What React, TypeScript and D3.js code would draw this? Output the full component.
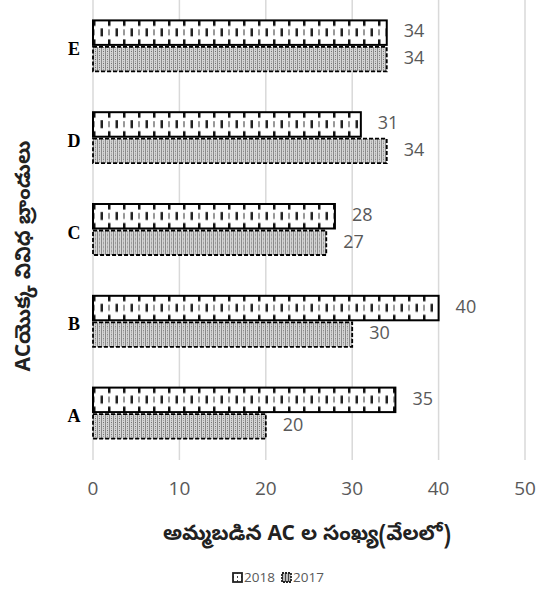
import React from "react";
import * as d3 from "d3";

const categories = ["E", "D", "C", "B", "A"];
const seriesNames = ["2018", "2017"];
const values2018 = [34, 31, 28, 40, 35];
const values2017 = [34, 34, 27, 30, 20];
const xTicks = [0, 10, 20, 30, 40, 50];
const xTitle = "అమ్మబడిన AC ల సంఖ్య(వేలలో)";
const yTitle = "ACయొక్క వివిధ బ్రాండులు";

const W = 554;
const H = 593;

export default function App() {
  const x = d3.scaleLinear().domain([0, 50]).range([93, 525]);
  const y = d3.scaleBand<string>().domain(categories).range([0, 459]);
  const half = 26.5;
  const latin = "'Open Sans', 'Noto Sans', sans-serif";
  const telugu = "'Noto Sans Telugu', Gautami, 'Noto Sans', sans-serif";
  const seriesVals = [values2018, values2017];

  return (
    <svg
      width={W}
      height={H}
      style={{ position: "absolute", left: 0, top: 0, background: "#fff" }}
    >
      <defs>
        {categories.map((c) => {
          const cy = (y(c) as number) + y.bandwidth() / 2;
          const top = cy - half;
          return (
            <g key={"pd" + c}>
              <pattern
                id={"p2018" + c}
                patternUnits="userSpaceOnUse"
                x={x(0)}
                y={top}
                width="15"
                height="26.5"
              >
                <rect width="15" height="26.5" fill="#fff" />
                <rect x="0" y="0" width="2.5" height="6.5" fill="#111" />
                <rect x="0" y="20" width="2.5" height="6.5" fill="#111" />
                <rect x="0" y="10" width="2" height="6" fill="#999" />
                <rect x="7.5" y="9" width="2.5" height="8" fill="#222" />
              </pattern>
              <pattern
                id={"p2017" + c}
                patternUnits="userSpaceOnUse"
                x={x(0)}
                y={cy}
                width="4"
                height="4"
              >
                <rect width="4" height="4" fill="#d6d6d6" />
                <rect x="0" y="0" width="1" height="4" fill="#8a8a8a" />
                <rect x="2" y="1" width="1" height="1" fill="#666" />
                <rect x="2" y="3" width="1" height="1" fill="#999" />
              </pattern>
            </g>
          );
        })}
        <pattern id="leg2018" patternUnits="userSpaceOnUse" width="4" height="4">
          <rect width="4" height="4" fill="#fff" />
          <rect x="1" y="0" width="1" height="2" fill="#444" />
        </pattern>
        <pattern id="leg2017" patternUnits="userSpaceOnUse" width="3" height="3">
          <rect width="3" height="3" fill="#bbb" />
          <rect x="0" y="0" width="1" height="3" fill="#444" />
        </pattern>
      </defs>

      {/* gridlines */}
      {xTicks.map((t) => (
        <line
          key={"g" + t}
          x1={x(t)}
          x2={x(t)}
          y1={0}
          y2={460}
          stroke="#d9d9d9"
          strokeWidth={1.5}
        />
      ))}

      {/* bars */}
      {categories.map((c, i) => {
        const cy = (y(c) as number) + y.bandwidth() / 2;
        const sub = d3
          .scaleBand<string>()
          .domain(seriesNames)
          .range([cy - half, cy + half]);
        return (
          <g key={c}>
            {seriesNames.map((s, si) => {
              const v = seriesVals[si][i];
              const by = sub(s) as number;
              return (
                <g key={s}>
                  <rect
                    x={x(0)}
                    y={by + 1}
                    width={x(v) - x(0)}
                    height={sub.bandwidth() - 2}
                    fill={`url(#p${s}${c})`}
                    stroke="#000"
                    strokeWidth={si === 0 ? 2 : 1.8}
                    strokeDasharray={si === 0 ? undefined : "4,2"}
                  />
                  <text
                    x={x(v) + 17}
                    y={by + sub.bandwidth() / 2}
                    dominantBaseline="middle"
                    fontFamily={latin}
                    fontSize={18}
                    fill="#595959"
                  >
                    {v}
                  </text>
                </g>
              );
            })}
            <text
              x={74}
              y={cy + 5}
              textAnchor="middle"
              dominantBaseline="middle"
              fontFamily="'Times New Roman', 'Liberation Serif', serif"
              fontWeight="bold"
              fontSize={18}
              fill="#000"
            >
              {c}
            </text>
          </g>
        );
      })}

      {/* x tick labels */}
      {xTicks.map((t) => (
        <text
          key={"t" + t}
          x={x(t)}
          y={490}
          textAnchor="middle"
          dominantBaseline="middle"
          fontFamily={latin}
          fontSize={19}
          fill="#595959"
        >
          {t}
        </text>
      ))}

      {/* axis titles */}
      <text
        x={307}
        y={535}
        textAnchor="middle"
        dominantBaseline="middle"
        fontFamily={telugu}
        fontSize={21}
        fontWeight="bold"
        fill="#222"
      >
        {xTitle}
      </text>
      <text
        transform={`translate(25,256) rotate(-90)`}
        textAnchor="middle"
        dominantBaseline="middle"
        fontFamily={telugu}
        fontSize={21}
        fontWeight="bold"
        fill="#222"
      >
        {yTitle}
      </text>

      {/* legend */}
      {seriesNames.map((s, si) => {
        const lx = 233 + si * 49;
        return (
          <g key={"l" + s}>
            <rect
              x={lx}
              y={573}
              width={9}
              height={9}
              fill={`url(#leg${s})`}
              stroke="#222"
              strokeWidth={1.8}
              strokeDasharray={si === 0 ? undefined : "2,1"}
            />
            <text
              x={lx + 11}
              y={578}
              dominantBaseline="middle"
              fontFamily={latin}
              fontSize={13.5}
              fill="#595959"
            >
              {s}
            </text>
          </g>
        );
      })}
    </svg>
  );
}
